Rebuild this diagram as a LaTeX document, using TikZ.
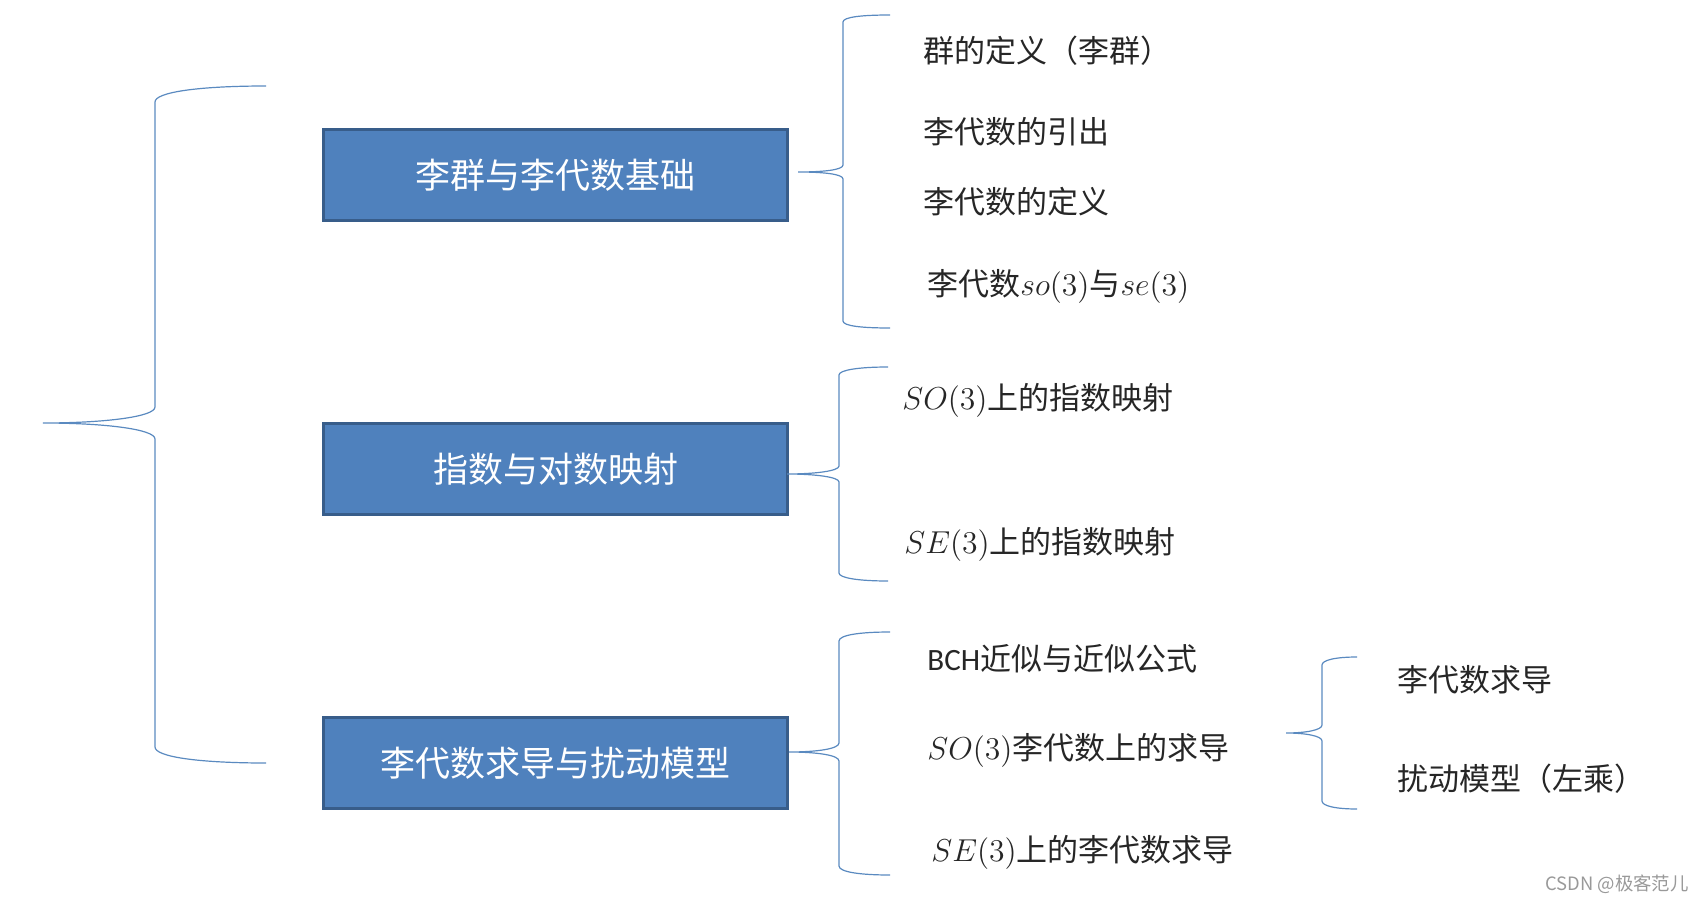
\documentclass[tikz,border=0pt]{standalone}
\usepackage{fontspec}
\usepackage{graphicx}
\usepackage{tikz}
\usetikzlibrary{positioning}
\newfontfamily\cjk{Noto Sans CJK SC}
\newfontfamily\calib{Carlito}
\newcommand\mth[1]{\scalebox{1.1}{$#1$}}
\definecolor{topicblue}{RGB}{79,129,189}
\definecolor{topicedge}{RGB}{56,93,138}
\definecolor{braceblue}{RGB}{90,138,192}

\begin{document}
\begin{tikzpicture}[
    x=0.5pt, y=-0.5pt,
    node distance=100pt,
    topic/.style={draw=topicedge, line width=1.5pt, fill=topicblue, text=white, minimum width=232pt, minimum height=45.5pt, font=\cjk\fontsize{17.5}{20}\selectfont},
    item/.style={anchor=west, inner sep=0pt, text height=13.6pt, text depth=1.9pt, text=black!85, font=\cjk\fontsize{15.5}{18}\selectfont},
    brace/.style={draw=braceblue, line width=0.6pt}
  ]
  \useasboundingbox (0,0) rectangle (1702,899);

  % three topics
  \node[topic] (basics) at (555.5,175) {李群与李代数基础};
  \node[topic, below=of basics] (expmap) {指数与对数映射};
  \node[topic, below=of expmap] (deriv) {李代数求导与扰动模型};

  % items of each topic
  \node[item] (grpdef) at (923,51) {群的定义（李群）};
  \node[item] (liein) at (923,132) {李代数的引出};
  \node[item] (liedef) at (923,202) {李代数的定义};
  \node[item] (sose) at (927,284) {李代数\mth{so(3)}与\mth{se(3)}};
  \node[item] (soexp) at (902,398) {\mth{SO(3)}上的指数映射};
  \node[item] (seexp) at (904,542) {\mth{SE(3)}上的指数映射};
  \node[item] (bch) at (927,659) {{\calib BCH}近似与近似公式};
  \node[item] (soder) at (927,748) {\mth{SO(3)}李代数上的求导};
  \node[item] (seder) at (931,850) {\mth{SE(3)}上的李代数求导};
  \node[item] (liederiv) at (1397,680) {李代数求导};
  \node[item] (perturb) at (1397,779) {扰动模型（左乘）};

  \node[anchor=east, inner sep=0pt, text=black!40, font=\cjk\fontsize{9.2}{10}\selectfont] (mark) at (1689,884) {CSDN @极客范儿};

  % braces
  \coordinate (b0top) at (266,86);
  \coordinate (b1top) at (890,15);
  \coordinate (b2top) at (888,367);
  \coordinate (b3top) at (890,632);
  \coordinate (b4top) at (1357,657);
  \draw[brace] (b0top) .. controls +(-66,0) and +(0,-10) .. ++(-111,16) -- ++(0,305)
    .. controls +(0,10) and +(60,0) .. ++(-112,16) .. controls +(60,0) and +(0,-10) .. ++(112,16)
    -- ++(0,308) .. controls +(0,10) and +(-66,0) .. ++(111,16);
  \draw[brace] (b1top) .. controls +(-28,0) and +(0,-5) .. ++(-47,7) -- ++(0,143)
    .. controls +(0,5) and +(25,0) .. ++(-45,7) .. controls +(25,0) and +(0,-5) .. ++(45,7)
    -- ++(0,142) .. controls +(0,5) and +(-28,0) .. ++(47,7);
  \draw[brace] (b2top) .. controls +(-29,0) and +(0,-5) .. ++(-49,8) -- ++(0,91)
    .. controls +(0,5) and +(28,0) .. ++(-52,8) .. controls +(28,0) and +(0,-5) .. ++(52,8)
    -- ++(0,91) .. controls +(0,5) and +(-29,0) .. ++(49,8);
  \draw[brace] (b3top) .. controls +(-30,0) and +(0,-6) .. ++(-51,9) -- ++(0,102)
    .. controls +(0,6) and +(27,0) .. ++(-50,9) .. controls +(27,0) and +(0,-6) .. ++(50,9)
    -- ++(0,105) .. controls +(0,6) and +(-30,0) .. ++(51,9);
  \draw[brace] (b4top) .. controls +(-21,0) and +(0,-5) .. ++(-35,8) -- ++(0,60)
    .. controls +(0,5) and +(20,0) .. ++(-36,8) .. controls +(20,0) and +(0,-5) .. ++(36,8)
    -- ++(0,60) .. controls +(0,5) and +(-21,0) .. ++(35,8);
\end{tikzpicture}
\end{document}
